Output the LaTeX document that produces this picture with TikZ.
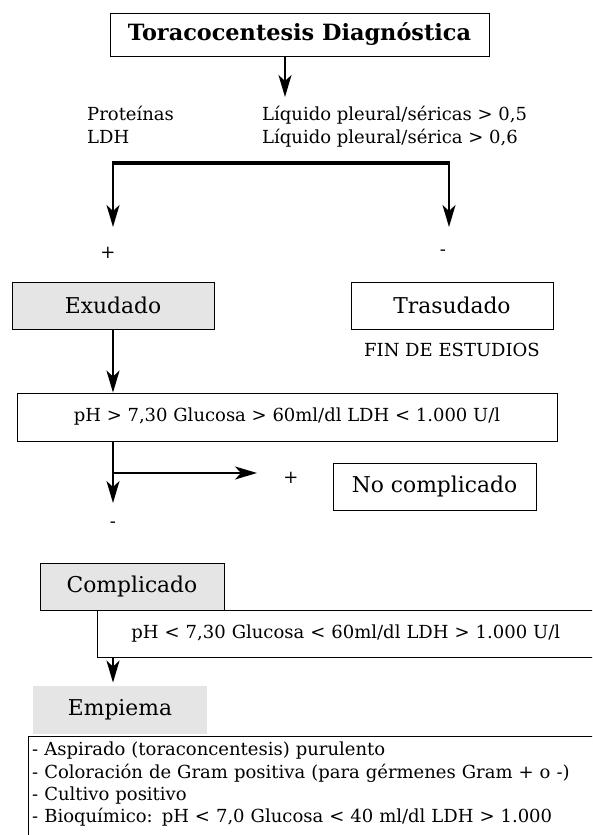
\documentclass[tikz,border=0pt]{standalone}
\usepackage{fontspec}
\setmainfont{DejaVu Serif}
\usetikzlibrary{arrows.meta, calc}

\begin{document}
\begin{tikzpicture}[x=1pt, y=-1pt,
                >={Stealth[length=22pt, width=13pt, inset=6pt]},
                box/.style={draw, line width=0.8pt, inner sep=0pt, minimum height=47pt,
                    font=\fontsize{21.8}{27}\selectfont},
                grey box/.style={box, fill=black!10},
                note/.style={inner sep=0pt, font=\fontsize{18}{22}\selectfont},
                flow/.style={->, line width=2pt}]

            \useasboundingbox (0,0) rectangle (592,835);
            \clip (0,0) rectangle (592,835);

            % first test
            \node[box, minimum width=379pt, minimum height=43pt,
                font=\fontsize{22.4}{27}\selectfont\bfseries] (title) at (299.5,34.5) {Toracocentesis Diagnóstica};
            \coordinate (split) at (285,97);
            \draw[flow] (title.south -| split) -- (split);
            \node[note, anchor=base west] (prot) at (87,120) {Proteínas};
            \node[note, anchor=base west] (ldh) at (87,143) {LDH};
            \node[note, anchor=base west] (protval) at (262,120) {Líquido pleural/séricas > 0,5};
            \node[note, anchor=base west] (ldhval) at (262,143) {Líquido pleural/sérica > 0,6};

            % exudado / trasudado
            \coordinate (barl) at (113,163);
            \coordinate (barr) at (449,163);
            \coordinate (exuend) at (113,227);
            \coordinate (trasend) at (449,227);
            \draw[line width=4pt] ([xshift=-1.3pt]barl) -- ([xshift=1.3pt]barr);
            \draw[flow] (barl) -- (exuend);
            \draw[flow] (barr) -- (trasend);
            \node[note] (pos) at (108,253) {+};
            \node[note] (neg) at (443,253) {-};
            \node[grey box, minimum width=202pt] (exu) at (113,305.5) {Exudado};
            \node[box, minimum width=202pt] (tras) at (452,305.5) {Trasudado};
            \node[note] (fin) at (452,350) {FIN DE ESTUDIOS};

            % pH, glucosa, LDH
            \node[box, minimum width=540pt, minimum height=48pt, font=\fontsize{18}{22}\selectfont] (high) at (287,417)
                {pH > 7,30 Glucosa > 60ml/dl LDH < 1.000 U/l};
            \draw[flow] (exu.south) -- (high.north -| exu.south);
            \coordinate (fork) at (113,473);
            \coordinate (forkend) at (257,473);
            \coordinate (lowend) at (113,503);
            \draw[flow] (high.south -| exu.south) -- (lowend);
            \draw[flow] (fork) -- (forkend);
            \node[note] (pos2) at (291,478) {+};
            \node[box, minimum width=203pt] (nocomp) at (434.5,486.5) {No complicado};
            \node[note] (neg2) at (113,525) {-};

            % complicado
            \node[box, anchor=north west, inner xsep=34pt, text width=480pt, align=left,
                font=\fontsize{18}{22}\selectfont] (low) at (97,610)
                {pH < 7,30 Glucosa < 60ml/dl LDH > 1.000 U/l};
            \node[grey box, minimum width=184pt] (comp) at (132,586.5) {Complicado};
            \node[grey box, draw=none, minimum width=174pt, minimum height=48pt] (emp) at (120,710) {Empiema};
            \draw[flow] (low.south -| exu.south) -- ([yshift=3pt]emp.north -| exu.south);
            \node[anchor=north west, inner xsep=4pt, inner ysep=6pt, text width=600pt, align=left,
                font=\fontsize{18}{22.3}\selectfont] (signs) at (28,736)
                {- Aspirado (toraconcentesis) purulento\\
                 - Coloración de Gram positiva (para gérmenes Gram + o -)\\
                 - Cultivo positivo\\
                 - Bioquímico: pH < 7,0 Glucosa < 40 ml/dl LDH > 1.000};
            \draw[line width=0.8pt] (signs.north west) rectangle ++(620,150);
        \end{tikzpicture}
\end{document}
